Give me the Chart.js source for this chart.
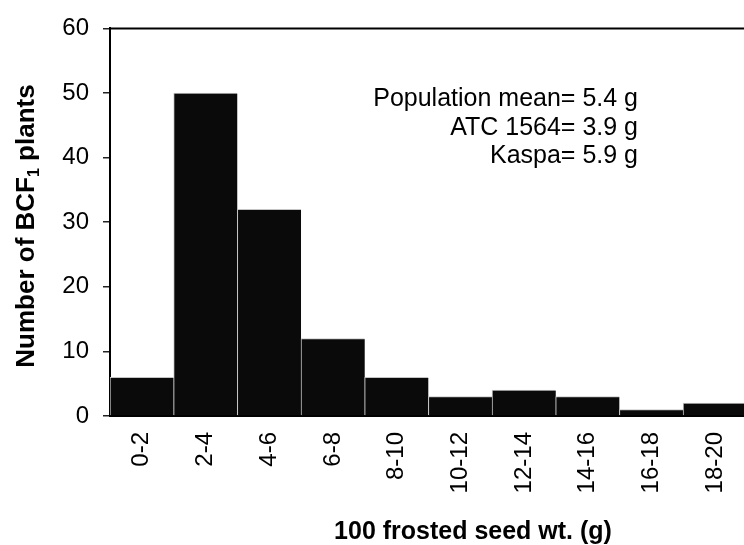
<!DOCTYPE html>
<html>
<head>
<meta charset="utf-8">
<script src="https://cdn.jsdelivr.net/npm/chart.js@4/dist/chart.umd.min.js"></script>
<style>
  html, body { margin: 0; padding: 0; background: #fff; overflow: hidden; }
  #wrap { width: 744px; height: 545px; overflow: hidden; }
</style>
</head>
<body>
<div id="wrap">
  <canvas id="seed-hist" width="760" height="545"></canvas>
</div>
<script>
// 100 frosted seed weight classes (g) and number of BCF1 plants per class
const binLabels = ['0-2', '2-4', '4-6', '6-8', '8-10', '10-12', '12-14', '14-16', '16-18', '18-20'];
const plantCounts = [6, 50, 32, 12, 6, 3, 4, 3, 1, 2];
const noteLines = ['Population mean= 5.4 g', 'ATC 1564= 3.9 g', 'Kaspa= 5.9 g'];

const FONT = "'Liberation Sans', Arial, sans-serif";

// axis titles, top frame line and the means note
const extrasPlugin = {
  id: 'extras',
  afterDraw(chart) {
    const { ctx, chartArea } = chart;
    ctx.save();

    // top frame line
    ctx.strokeStyle = '#000';
    ctx.lineWidth = 2;
    ctx.beginPath();
    ctx.moveTo(chartArea.left - 1, chartArea.top);
    ctx.lineTo(chart.width, chartArea.top);
    ctx.stroke();

    // note with the means
    ctx.fillStyle = '#000';
    ctx.font = '25px ' + FONT;
    ctx.textAlign = 'right';
    ctx.textBaseline = 'alphabetic';
    noteLines.forEach((line, i) => {
      ctx.fillText(line, 638, 106 + i * 28.7);
    });

    // x title
    ctx.font = 'bold 25px ' + FONT;
    ctx.textAlign = 'center';
    ctx.fillText('100 frosted seed wt. (g)', 473, 539);

    // y title with subscript 1
    ctx.translate(34, 226);
    ctx.rotate(-Math.PI / 2);
    const big = 'bold 26px ' + FONT;
    const small = 'bold 16px ' + FONT;
    const parts = [
      { t: 'Number of BCF', f: big, dy: 0 },
      { t: '1', f: small, dy: 5 },
      { t: ' plants', f: big, dy: 0 }
    ];
    let total = 0;
    parts.forEach(p => { ctx.font = p.f; p.w = ctx.measureText(p.t).width; total += p.w; });
    let x = -total / 2;
    ctx.textAlign = 'left';
    parts.forEach(p => {
      ctx.font = p.f;
      ctx.fillText(p.t, x, p.dy);
      x += p.w;
    });
    ctx.restore();
  }
};

new Chart(document.getElementById('seed-hist'), {
  type: 'bar',
  data: {
    labels: binLabels,
    datasets: [{
      data: plantCounts,
      backgroundColor: '#0a0a0a',
      borderColor: '#c4c4c4',
      borderWidth: { top: 1, left: 1, right: 0, bottom: 0 },
      borderSkipped: false,
      barPercentage: 1,
      categoryPercentage: 1
    }]
  },
  options: {
    responsive: false,
    animation: false,
    layout: { padding: { top: 23, right: 5, left: 0, bottom: 0 } },
    plugins: {
      legend: { display: false },
      tooltip: { enabled: false }
    },
    scales: {
      x: {
        grid: { display: false, drawTicks: false },
        border: { display: true, color: '#000', width: 2 },
        ticks: {
          color: '#000',
          font: { family: FONT, size: 24 },
          minRotation: 90,
          maxRotation: 90,
          padding: 16,
          autoSkip: false
        },
        afterFit: scale => { scale.height = 129; }
      },
      y: {
        min: 0,
        max: 60,
        grid: {
          drawOnChartArea: false,
          drawTicks: true,
          tickLength: 7,
          color: '#222',
          lineWidth: 1.5
        },
        border: { display: true, color: '#000', width: 2 },
        ticks: {
          stepSize: 10,
          color: '#000',
          font: { family: FONT, size: 24 },
          padding: 14
        },
        afterFit: scale => { scale.width = 110; }
      }
    }
  },
  plugins: [extrasPlugin]
});
</script>
</body>
</html>
